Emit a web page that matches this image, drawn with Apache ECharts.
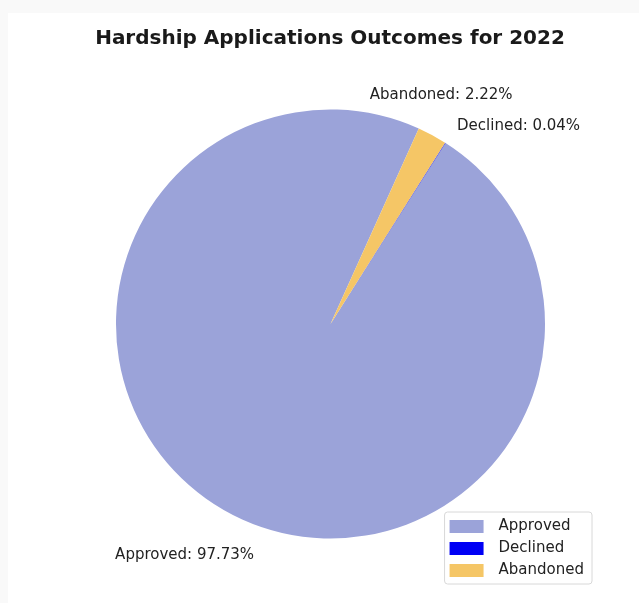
<!DOCTYPE html>
<html>
<head>
<meta charset="utf-8">
<script src="https://cdn.jsdelivr.net/npm/echarts@6/dist/echarts.min.js"></script>
<style>
html,body{margin:0;padding:0;background:#f9f9f9;}
#wrap{position:absolute;left:8px;top:13px;width:631px;height:590px;background:#fff;}
#chart{position:absolute;left:-8px;top:-13px;width:639px;height:603px;}
</style>
</head>
<body>
<div id="wrap"><div id="chart"></div></div>
<script>
var categories = ['Approved', 'Declined', 'Abandoned'];
var values = [97.73, 0.04, 2.22];
var colors = ['#9ba3d9', '#0000f5', '#f5c666'];
var labelShift = [[40, 25], [-4, 0], [-77, -22]];

var chart = echarts.init(document.getElementById('chart'));
var data = categories.map(function (c, i) {
  return { name: c, value: values[i], itemStyle: { color: colors[i] } };
});
chart.setOption({
  backgroundColor: 'transparent',
  title: {
    text: 'Hardship Applications Outcomes for 2022',
    left: 325, top: 24, textAlign: 'center',
    textStyle: { fontFamily: 'DejaVu Sans', fontWeight: 'bold', fontSize: 20, color: '#1a1a1a' }
  },
  legend: {
    orient: 'vertical',
    right: 47, bottom: 19,
    data: categories,
    itemWidth: 34, itemHeight: 13, itemGap: 7,
    padding: [7, 8, 6, 5],
    borderColor: '#d8d8d8', borderWidth: 1, borderRadius: 3,
    backgroundColor: '#fff',
    icon: 'rect',
    textStyle: { fontFamily: 'DejaVu Sans', fontSize: 15, color: '#222', padding: [0, 0, 0, 10] }
  },
  series: [{
    type: 'pie',
    center: [330.5, 324],
    radius: 214.5,
    clockwise: false,
    startAngle: 65.7,
    avoidLabelOverlap: false,
    minShowLabelAngle: 0,
    data: data,
    label: {
      show: true,
      position: 'outside',
      fontFamily: 'DejaVu Sans', fontSize: 15, color: '#222',
      formatter: function (p) { return p.name + ': ' + p.value.toFixed(2) + '%'; }
    },
    labelLine: { show: false, length: 20, length2: 0 },
    labelLayout: function (p) {
      var s = labelShift[p.dataIndex];
      return { dx: s[0], dy: s[1], hideOverlap: false };
    },
    emphasis: { disabled: true }
  }]
});
</script>
</body>
</html>
